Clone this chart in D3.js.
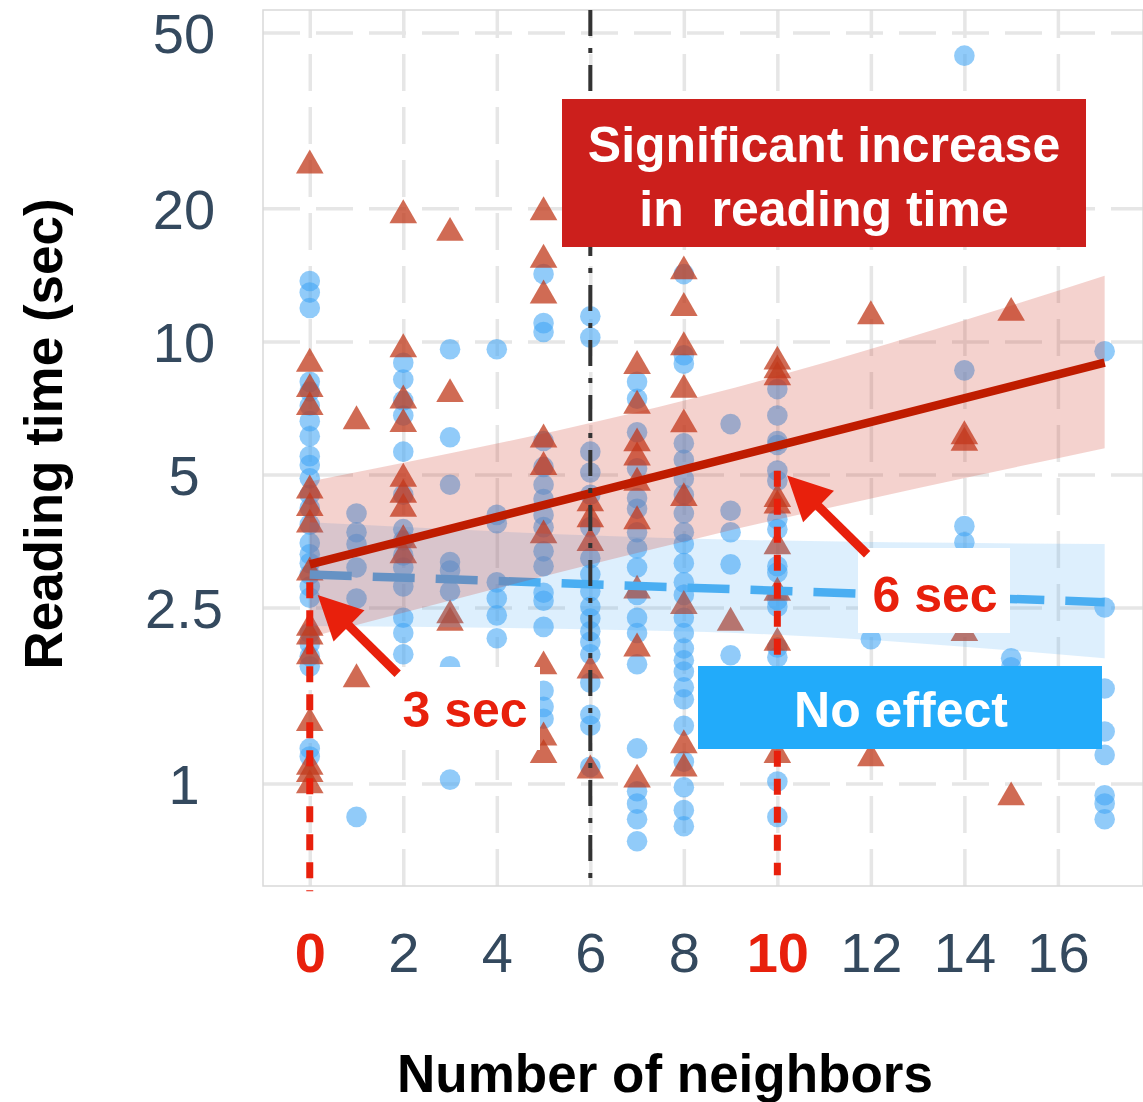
<!DOCTYPE html>
<html>
<head>
<meta charset="utf-8">
<script src="https://cdn.jsdelivr.net/npm/d3@7"></script>
<style>
  body { margin: 0; background: #fff; }
  svg { display: block; }
  text { font-family: "Liberation Sans", Arial, Helvetica, sans-serif; }
</style>
</head>
<body>
<svg id="chart"></svg>
<script>
// number of neighbors for each column of points
const neighbors = [0, 1, 2, 3, 4, 5, 6, 7, 8, 9, 10, 11, 12, 13, 14, 15, 16, 17];

// reading times (sec), no-effect group (blue circles), one list per neighbor count
const blueTimes = [
  [13.7, 12.9, 11.9, 8.1, 7.7, 7.15, 6.6, 6.1, 5.5, 5.25, 4.9, 4.5, 4.2, 3.85, 3.5, 3.3, 3.15, 2.97, 2.79, 2.63, 2.19, 2.07, 1.94, 1.84, 1.2, 1.15],
  [4.08, 3.7, 3.48, 3.08, 2.62, 0.84],
  [8.95, 8.2, 7.35, 6.8, 5.63, 4.5, 3.76, 3.55, 3.28, 3.08, 2.79, 2.37, 2.19, 1.96],
  [9.6, 6.07, 4.74, 3.17, 3.03, 2.72, 1.84, 1.02],
  [9.6, 4.05, 3.88, 2.85, 2.62, 2.4, 2.13],
  [14.2, 11.0, 10.5, 5.95, 5.2, 4.74, 4.4, 4.05, 3.8, 3.35, 3.1, 2.7, 2.59, 2.26, 1.62, 1.49, 1.4],
  [11.4, 10.2, 5.63, 5.05, 4.5, 3.8, 3.23, 2.97, 2.72, 2.51, 2.36, 2.21, 2.09, 1.96, 1.69, 1.43, 1.35, 1.09],
  [8.1, 7.42, 6.23, 5.16, 4.42, 4.18, 3.7, 3.4, 3.08, 2.67, 2.37, 2.19, 1.86, 1.2, 0.96, 0.9, 0.83, 0.74],
  [14.2, 9.3, 8.9, 5.88, 5.4, 4.89, 4.5, 4.08, 3.7, 3.48, 3.15, 2.85, 2.67, 2.37, 2.19, 2.02, 1.9, 1.79, 1.65, 1.55, 1.35, 1.12, 0.98, 0.87, 0.8],
  [6.5, 4.14, 3.7, 3.13, 1.95],
  [7.8, 6.8, 5.95, 5.83, 5.1, 4.84, 3.96, 3.76, 3.1, 3.0, 2.6, 2.51, 2.03, 1.93, 1.01, 0.84],
  [],
  [2.12],
  [],
  [44.3, 8.6, 3.82, 3.51],
  [1.92, 1.83],
  [],
  [9.5, 2.5, 1.64, 1.31, 1.16, 0.94, 0.9, 0.83]
];

// reading times (sec), significant-increase group (red triangles)
const redTimes = [
  [25.0, 8.9, 7.8, 7.1, 4.6, 4.2, 3.85, 3.0, 2.25, 2.15, 1.94, 1.37, 1.09, 1.05, 0.99],
  [6.6, 1.72],
  [19.3, 9.6, 7.35, 6.5, 4.89, 4.5, 4.18, 3.55, 3.28],
  [17.6, 7.6, 2.4, 2.31],
  [],
  [19.6, 15.3, 12.7, 6.0, 5.2, 3.64, 1.84, 1.27, 1.16],
  [4.3, 3.96, 3.5, 1.8, 1.07],
  [8.8, 7.15, 5.88, 5.46, 4.79, 3.92, 2.73, 2.02, 1.02],
  [14.4, 11.9, 9.7, 7.77, 6.49, 4.42, 2.52, 1.22, 1.08],
  [2.31],
  [9.0, 8.6, 8.3, 4.4, 4.25, 3.44, 2.7, 2.08, 1.16],
  [],
  [11.4, 1.14],
  [],
  [6.1, 5.9, 2.19],
  [11.6, 0.93],
  [],
  []
];

const xTicks = [0, 2, 4, 6, 8, 10, 12, 14, 16];
const yTicks = [1, 2.5, 5, 10, 20, 50];
const highlightTicks = [0, 10];

// fitted lines (log scale) and confidence bands
const fitX = [0, 17];
const redFit = [3.13, 8.95];
const blueFit = [2.97, 2.57];
const bandX = [0, 8.5, 17];
const redBandLo = [2.14, 3.63, 5.73];
const redBandHi = [4.82, 7.57, 14.07];
const blueBandLo = [2.27, 2.2, 1.92];
const blueBandHi = [3.9, 3.57, 3.48];

// reference lines
const splitAt = 6;
const markerX = [0, 10];
const markerTop = [2.85, 5.1];
const markerBottom = [0.57, 0.62];

// arrows [neighbors, seconds]
const arrowFrom = [[1.88, 1.77], [11.92, 3.3]];
const arrowTo = [[0.17, 2.67], [10.21, 4.97]];

const W = 1143, H = 1102;
const panel = { left: 263, right: 1143, top: 10, bottom: 886 };
const RED = "#e8200c";

const svg = d3.select("#chart").attr("width", W).attr("height", H);
svg.append("rect").attr("width", W).attr("height", H).attr("fill", "#fff");

const x = d3.scaleLinear().domain([-1, 17.82]).range([panel.left, panel.right]);
const y = d3.scaleLog().domain([0.586, 56.2]).range([panel.bottom, panel.top]);

// grid
const grid = svg.append("g");
grid.append("g")
  .attr("transform", "translate(" + panel.left + ",0)")
  .call(d3.axisLeft(y).tickValues(yTicks).tickSize(-(panel.right - panel.left)).tickFormat(""))
  .call(g => g.select(".domain").remove())
  .selectAll("line")
  .attr("stroke", "#e6e6e6").attr("stroke-width", 3.5)
  .attr("stroke-dasharray", "37,16");
grid.append("g")
  .attr("transform", "translate(0," + panel.bottom + ")")
  .call(d3.axisBottom(x).tickValues(xTicks).tickSize(-(panel.bottom - panel.top)).tickFormat(""))
  .call(g => g.select(".domain").remove())
  .selectAll("line")
  .attr("stroke", "#e6e6e6").attr("stroke-width", 3.5)
  .attr("stroke-dasharray", "37,16");

svg.append("rect")
  .attr("x", panel.left).attr("y", panel.top)
  .attr("width", panel.right - panel.left).attr("height", panel.bottom - panel.top)
  .attr("fill", "none").attr("stroke", "#d9d9d9").attr("stroke-width", 1.5);

// points
const bluePts = [], redPts = [];
blueTimes.forEach((arr, i) => arr.forEach(t => bluePts.push({ n: neighbors[i], t: t })));
redTimes.forEach((arr, i) => arr.forEach(t => redPts.push({ n: neighbors[i], t: t })));

svg.append("g").selectAll("circle")
  .data(bluePts).enter().append("circle")
  .attr("cx", d => x(d.n)).attr("cy", d => y(d.t)).attr("r", 10.3)
  .attr("fill", "#42a5f5").attr("fill-opacity", 0.58);

const tri = d3.symbol().type(d3.symbolTriangle).size(330);
svg.append("g").selectAll("path")
  .data(redPts).enter().append("path")
  .attr("d", tri)
  .attr("transform", d => "translate(" + x(d.n) + "," + y(d.t) + ")")
  .attr("fill", "#c0391b").attr("fill-opacity", 0.75);

// bands and fits
const bandArea = (lo, hi) => d3.area()
  .x((d, i) => x(bandX[i]))
  .y0((d, i) => y(lo[i]))
  .y1((d, i) => y(hi[i]))
  .curve(d3.curveMonotoneX)(bandX);
const fitLine = vals => d3.line()
  .x((d, i) => x(fitX[i]))
  .y((d, i) => y(vals[i]))(fitX);

svg.append("path").attr("d", bandArea(blueBandLo, blueBandHi))
  .attr("fill", "#42a5f5").attr("fill-opacity", 0.18);
svg.append("path").attr("d", fitLine(blueFit))
  .attr("fill", "none").attr("stroke", "#4aaef2").attr("stroke-width", 8.5)
  .attr("stroke-dasharray", "42,21");
svg.append("path").attr("d", bandArea(redBandLo, redBandHi))
  .attr("fill", "#cc3322").attr("fill-opacity", 0.22);
svg.append("path").attr("d", fitLine(redFit))
  .attr("fill", "none").attr("stroke", "#bf1c00").attr("stroke-width", 8.5);

// split line at 6 neighbors
svg.append("line")
  .attr("x1", x(splitAt)).attr("x2", x(splitAt))
  .attr("y1", panel.top).attr("y2", panel.bottom)
  .attr("stroke", "#333").attr("stroke-width", 4)
  .attr("stroke-dasharray", "26,12,5,12");

// red dashed markers at 0 and 10
svg.append("g").selectAll("line")
  .data(markerX).enter().append("line")
  .attr("x1", d => x(d)).attr("x2", d => x(d))
  .attr("y1", (d, i) => y(markerTop[i])).attr("y2", (d, i) => y(markerBottom[i]))
  .attr("stroke", RED).attr("stroke-width", 7)
  .attr("stroke-dasharray", "16,12");

// axes labels
const yAxis = svg.append("g")
  .attr("transform", "translate(" + panel.left + ",0)")
  .call(d3.axisLeft(y).tickValues(yTicks).tickSize(0).tickFormat(d3.format("~g")));
yAxis.select(".domain").remove();
yAxis.selectAll("text")
  .attr("x", 184 - panel.left).attr("dy", "0.36em")
  .attr("text-anchor", "middle")
  .style("font-size", "56px").attr("fill", "#34495e");

const xAxis = svg.append("g")
  .attr("transform", "translate(0," + panel.bottom + ")")
  .call(d3.axisBottom(x).tickValues(xTicks).tickSize(0));
xAxis.select(".domain").remove();
xAxis.selectAll("text")
  .attr("y", 86).attr("dy", 0)
  .style("font-size", "56px")
  .attr("fill", d => highlightTicks.includes(d) ? RED : "#34495e")
  .style("font-weight", d => highlightTicks.includes(d) ? "bold" : "normal");

svg.append("text")
  .attr("transform", "translate(62,434) rotate(-90)")
  .attr("text-anchor", "middle")
  .style("font-size", "53px").style("font-weight", "bold")
  .text("Reading time (sec)");
svg.append("text")
  .attr("x", 665).attr("y", 1092)
  .attr("text-anchor", "middle")
  .style("font-size", "53px").style("font-weight", "bold")
  .text("Number of neighbors");

// annotation boxes
function box(rx, ry, rw, rh, fill) {
  svg.append("rect").attr("x", rx).attr("y", ry).attr("width", rw).attr("height", rh).attr("fill", fill);
}
function label(tx, ty, str, color) {
  svg.append("text").attr("x", tx).attr("y", ty)
    .attr("text-anchor", "middle")
    .style("font-size", "50px").style("font-weight", "bold")
    .style("white-space", "pre")
    .attr("fill", color).text(str);
}

box(562, 99, 524, 148, "#cc1f1c");
label(824, 162, "Significant increase", "#fff");
label(824, 226, "in  reading time", "#fff");

box(698, 666, 404, 83, "#22abfa");
label(901, 727, "No effect", "#fff");

box(858, 548, 152, 85, "#fff");
label(935, 612, "6 sec", RED);

box(388, 667, 152, 83, "#fff");
label(465, 727, "3 sec", RED);

// arrows
arrowFrom.forEach((f, i) => {
  const x1 = x(f[0]), y1 = y(f[1]);
  const x2 = x(arrowTo[i][0]), y2 = y(arrowTo[i][1]);
  const len = Math.hypot(x2 - x1, y2 - y1);
  const ux = (x2 - x1) / len, uy = (y2 - y1) / len;
  const headLen = 44, headHalf = 22;
  const bx = x2 - ux * headLen, by = y2 - uy * headLen;
  svg.append("line")
    .attr("x1", x1).attr("y1", y1).attr("x2", bx + ux * 2).attr("y2", by + uy * 2)
    .attr("stroke", RED).attr("stroke-width", 9);
  svg.append("path")
    .attr("d", "M" + x2 + "," + y2 +
      "L" + (bx - uy * headHalf) + "," + (by + ux * headHalf) +
      "L" + (bx + uy * headHalf) + "," + (by - ux * headHalf) + "Z")
    .attr("fill", RED);
});
</script>
</body>
</html>
